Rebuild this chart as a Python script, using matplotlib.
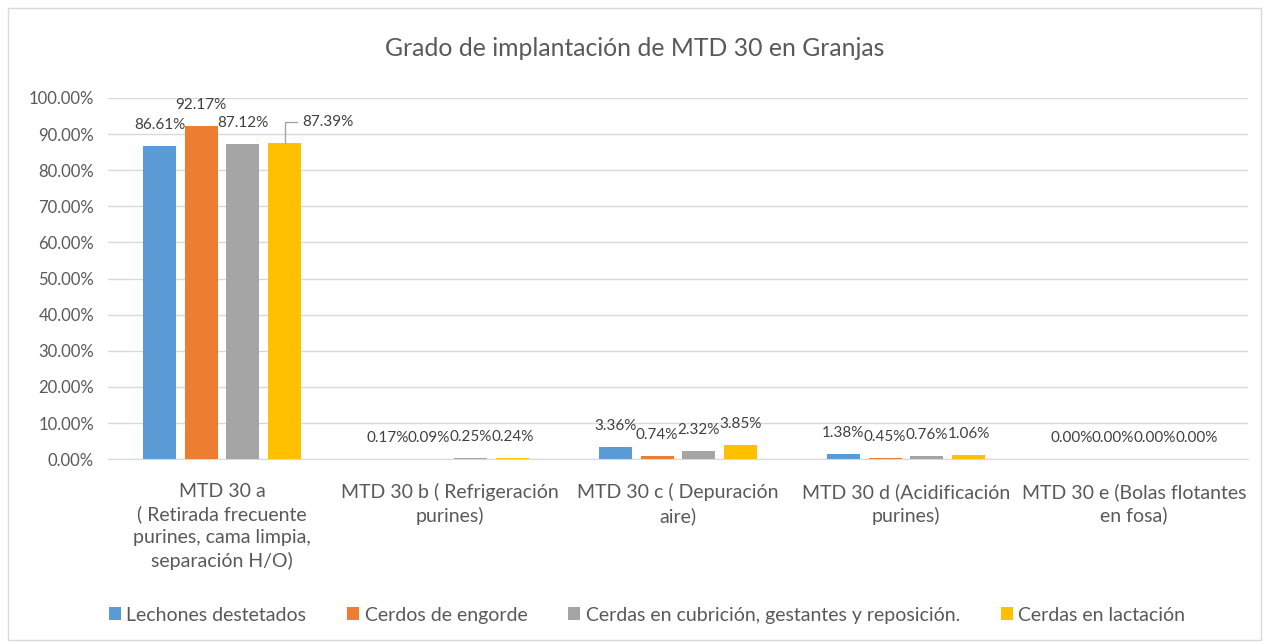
import numpy as np
import matplotlib
matplotlib.use("Agg")
import matplotlib.pyplot as plt
from matplotlib.patches import Rectangle
from matplotlib.ticker import FuncFormatter

plt.rcParams['font.family'] = ['Lato', 'DejaVu Sans']

# datos
categorias = [
    "MTD 30 a\n( Retirada frecuente\npurines, cama limpia,\nseparación H/O)",
    "MTD 30 b ( Refrigeración\npurines)",
    "MTD 30 c ( Depuración\naire)",
    "MTD 30 d (Acidificación\npurines)",
    "MTD 30 e (Bolas flotantes\nen fosa)",
]
series_nombres = [
    "Lechones destetados",
    "Cerdos de engorde",
    "Cerdas en cubrición, gestantes y reposición.",
    "Cerdas en lactación",
]
lechones = [86.61, 0.17, 3.36, 1.38, 0.00]
engorde = [92.17, 0.09, 0.74, 0.45, 0.00]
cubricion = [87.12, 0.25, 2.32, 0.76, 0.00]
lactacion = [87.39, 0.24, 3.85, 1.06, 0.00]
colores = ['#5b9bd5', '#ed7d31', '#a5a5a5', '#ffc000']

series = [lechones, engorde, cubricion, lactacion]
gris = '#595959'

fig = plt.figure(figsize=(12.69, 6.44), dpi=100)
fig.patches.append(Rectangle((0.006, 0.006), 0.988, 0.982, transform=fig.transFigure,
                             fill=False, edgecolor='#d9d9d9', linewidth=1))
ax = fig.add_axes([0.0851, 0.287, 0.8983, 0.561])

x = np.arange(len(categorias))
ancho = 0.145
paso = 0.183
for i, (vals, col, nombre) in enumerate(zip(series, colores, series_nombres)):
    pos = x + (i - 1.5) * paso
    ax.bar(pos, vals, width=ancho, color=col, label=nombre, zorder=3)
    for j, (px, v) in enumerate(zip(pos, vals)):
        if i == 3 and j == 0:
            # etiqueta con línea guía
            ax.annotate(f"{v:.2f}%", xy=(px, v), xytext=(18, 21), textcoords='offset pixels',
                        ha='left', va='center', fontsize=11, color='#404040',
                        arrowprops=dict(arrowstyle='-', color='#a6a6a6', lw=1,
                                        connectionstyle='angle,angleA=0,angleB=90',
                                        shrinkA=2, shrinkB=0))
        else:
            ax.annotate(f"{v:.2f}%", xy=(px, v), xytext=(0, 21), textcoords='offset pixels',
                        ha='center', va='center', fontsize=11, color='#404040')

ax.set_ylim(0, 100)
ax.set_xlim(-0.5, len(categorias) - 0.5)
ax.set_yticks(np.arange(0, 101, 10))
ax.yaxis.set_major_formatter(FuncFormatter(lambda v, p: f"{v:.2f}%"))
ax.set_xticks(x)
ax.set_xticklabels(categorias, fontsize=14, color=gris, linespacing=1.4, va='top')
ax.tick_params(axis='y', labelsize=12, labelcolor=gris, length=0, pad=10)
ax.tick_params(axis='x', length=0, pad=17)
ax.grid(axis='y', color='#d9d9d9', linewidth=1, zorder=0)
for s in ['top', 'right', 'left']:
    ax.spines[s].set_visible(False)
ax.spines['bottom'].set_color('#d9d9d9')

fig.text(0.5, 0.925, "Grado de implantación de MTD 30 en Granjas", ha='center', va='center',
         fontsize=17.8, color=gris)

fig.legend(loc='center', bbox_to_anchor=(0.51, 0.045), ncol=4, frameon=False,
           fontsize=14, labelcolor=gris, handlelength=0.6, handleheight=0.6,
           handletextpad=0.3, columnspacing=2.1)

plt.savefig("out.png", dpi=100)
